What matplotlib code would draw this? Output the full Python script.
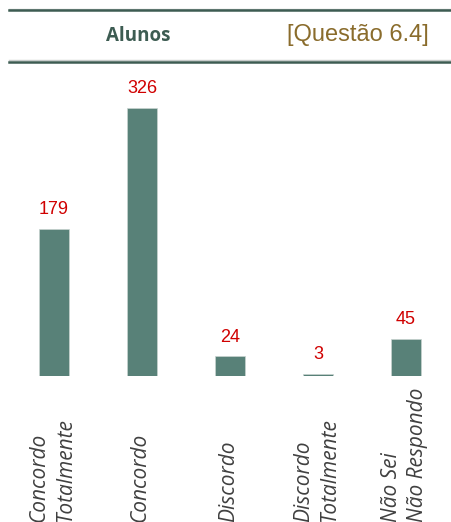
import matplotlib
matplotlib.use("Agg")
import matplotlib.pyplot as plt
import matplotlib.transforms as mtransforms

# data
categories = ["Concordo\nTotalmente", "Concordo", "Discordo",
              "Discordo\nTotalmente", "Não Sei\nNão Respondo"]
values = [179, 326, 24, 3, 45]

W, H = 451, 522
DPI = 100

bar_color = "#588178"
label_color = "#d00000"
title_green = "#3d5c52"
title_gold = "#8a6c2c"
line_green = "#3d5c52"

fig = plt.figure(figsize=(W / DPI, H / DPI), dpi=DPI)

# axes in pixel coords: x 10..450, y 70..376 (from top)
ax = fig.add_axes([10 / W, (H - 376) / H, 440 / W, 306 / H])
x = range(len(values))
ax.bar(x, values, width=0.34, color=bar_color, edgecolor="#c8d4d0", linewidth=0.5)
ax.set_xlim(-0.5, len(values) - 0.5)
ax.set_ylim(0, 372)
ax.axis("off")

for xi, v in zip(x, values):
    ax.text(xi, v + 13, str(v), ha="center", va="bottom", color=label_color,
            fontsize=13, family="Liberation Sans")

# category labels, rotated, aligned at the figure bottom
trans = mtransforms.blended_transform_factory(ax.transData, fig.transFigure)
for xi, lab in zip(x, categories):
    ax.text(xi - 0.02, 0.5 / H, lab, transform=trans, rotation=90, ha="center", va="bottom",
            multialignment="left", fontsize=15, family="Open Sans", style="italic",
            color="#404040", linespacing=1.3, clip_on=False)

# header lines
for yy in (9.5, 61):
    fig.add_artist(plt.Line2D([9 / W, 1], [1 - (yy - 1) / H] * 2, color="#c8cccb",
                              linewidth=1.0, transform=fig.transFigure))
    fig.add_artist(plt.Line2D([9 / W, 1], [1 - (yy + 0.8) / H] * 2, color=line_green,
                              linewidth=1.8, transform=fig.transFigure))

fig.text(138 / W, 1 - 36 / H, "Alunos", ha="center", va="center", fontsize=13.5,
         fontweight="bold", family="Open Sans", color=title_green)
fig.text(358 / W, 1 - 35 / H, "[Questão 6.4]", ha="center", va="center", fontsize=17,
         family="Liberation Sans", color=title_gold)

fig.savefig("out.png", dpi=DPI)
